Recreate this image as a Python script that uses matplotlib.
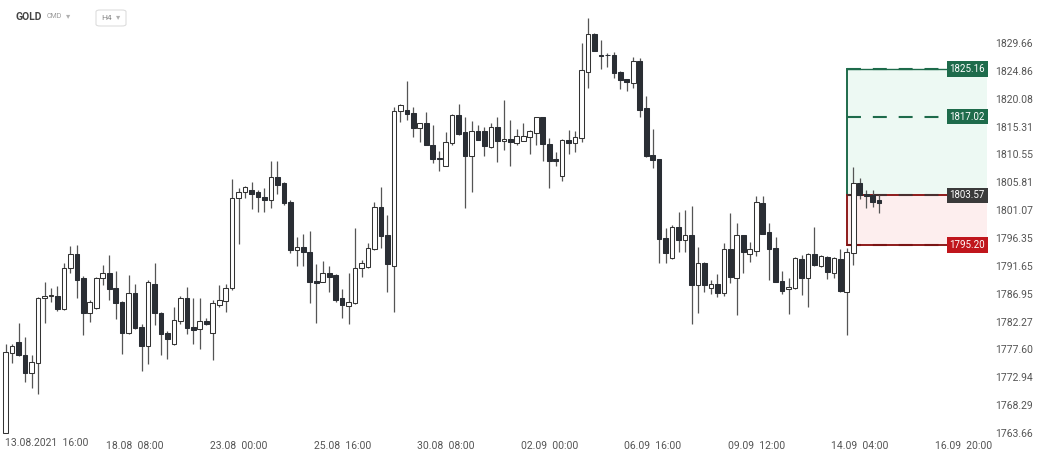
import matplotlib
matplotlib.use("Agg")
import matplotlib.pyplot as plt
from matplotlib.patches import Rectangle, FancyBboxPatch
from matplotlib.ticker import FixedLocator, FixedFormatter, NullLocator
import matplotlib.transforms as mtransforms

plt.rcParams['font.family'] = ['Roboto', 'DejaVu Sans']

# ---------------- data (GOLD, H4) ----------------
opens = [1763.71, 1777.03, 1778.84, 1776.58, 1773.60, 1775.34, 1786.29, 1786.51, 1786.56, 1784.36,
         1791.25, 1793.67, 1789.56, 1783.63, 1784.48, 1789.56, 1790.52, 1787.86, 1785.61, 1780.37,
         1787.14, 1781.38, 1778.17, 1788.66, 1783.75, 1780.42, 1778.56, 1782.40, 1786.17, 1781.38,
         1780.98, 1782.40, 1780.37, 1785.04, 1785.71, 1787.86, 1803.09, 1804.23, 1804.57, 1804.23,
         1803.31, 1802.81, 1806.65, 1805.63, 1802.54, 1794.34, 1794.85, 1794.07, 1789.10, 1789.00,
         1790.40, 1790.11, 1786.17, 1784.94, 1785.32, 1791.25, 1791.37, 1794.46, 1801.69, 1796.78,
         1791.70, 1818.04, 1818.16, 1817.65, 1815.11, 1815.90, 1812.23, 1809.98, 1808.63, 1812.57,
         1817.31, 1814.38, 1810.25, 1814.48, 1814.48, 1811.84, 1815.23, 1812.86, 1813.13, 1812.57,
         1812.86, 1813.54, 1814.21, 1816.92, 1812.28, 1809.74, 1806.94, 1813.03, 1812.52, 1813.37,
         1824.70, 1831.30, 1827.68, 1827.63, 1827.63, 1824.70, 1823.40, 1822.84, 1826.62, 1818.44,
         1810.42, 1809.74, 1796.32, 1792.94, 1798.19, 1795.94, 1796.88, 1788.42, 1792.09, 1787.86,
         1788.54, 1787.14, 1794.46, 1789.67, 1796.78, 1793.62, 1794.18, 1802.25, 1797.29, 1794.63,
         1789.10, 1787.75, 1787.86, 1792.82, 1789.67, 1793.62, 1791.70, 1793.06, 1790.40, 1792.82,
         1787.30, 1793.79, 1805.63, 1803.77, 1803.65, 1802.81]
highs = [1778.56, 1778.56, 1782.06, 1779.69, 1776.69, 1786.46, 1788.88, 1787.98, 1788.32, 1792.21,
         1794.92, 1795.19, 1789.89, 1785.83, 1789.81, 1791.81, 1793.50, 1790.79, 1785.75, 1790.11,
         1788.54, 1781.94, 1789.27, 1792.09, 1783.89, 1780.64, 1784.77, 1786.63, 1788.15, 1786.17,
         1786.29, 1782.79, 1785.88, 1788.42, 1788.54, 1806.36, 1804.79, 1805.12, 1805.92, 1804.50,
         1804.79, 1809.41, 1809.41, 1805.92, 1802.81, 1796.44, 1797.00, 1797.56, 1791.92, 1792.55,
         1791.70, 1790.23, 1787.69, 1790.40, 1798.02, 1792.65, 1795.48, 1802.54, 1804.96, 1800.27,
         1818.61, 1819.12, 1823.11, 1818.61, 1815.95, 1817.77, 1815.62, 1811.17, 1814.38, 1817.39,
         1819.17, 1816.92, 1816.34, 1815.62, 1815.23, 1815.90, 1816.92, 1819.90, 1816.51, 1814.94,
         1815.95, 1814.65, 1816.97, 1816.97, 1813.42, 1811.00, 1813.25, 1814.65, 1814.48, 1829.61,
         1834.01, 1831.36, 1830.17, 1828.02, 1828.19, 1824.92, 1823.45, 1827.18, 1827.07, 1820.47,
         1814.82, 1809.78, 1798.02, 1798.58, 1800.84, 1801.11, 1801.86, 1794.75, 1792.38, 1789.27,
         1790.28, 1795.48, 1800.67, 1798.86, 1796.88, 1795.60, 1803.55, 1803.55, 1798.86, 1796.44,
         1790.79, 1789.67, 1793.06, 1793.40, 1793.79, 1798.14, 1793.40, 1793.23, 1793.06, 1794.51,
         1794.63, 1808.46, 1806.48, 1804.45, 1804.50, 1803.65]
lows = [1763.61, 1775.34, 1776.52, 1772.18, 1771.23, 1770.09, 1782.11, 1785.61, 1784.02, 1784.14,
        1790.40, 1786.29, 1780.08, 1782.23, 1784.31, 1788.42, 1785.88, 1782.62, 1776.86, 1780.25,
        1781.09, 1774.04, 1775.17, 1781.65, 1776.58, 1776.02, 1778.27, 1781.94, 1780.13, 1778.56,
        1777.71, 1781.65, 1775.85, 1784.77, 1783.92, 1787.58, 1795.31, 1803.09, 1801.23, 1800.72,
        1800.84, 1801.40, 1803.77, 1801.96, 1793.79, 1791.64, 1791.54, 1785.32, 1782.11, 1788.97,
        1787.30, 1785.49, 1782.79, 1781.94, 1785.24, 1789.84, 1791.33, 1794.34, 1794.63, 1787.30,
        1783.92, 1816.07, 1816.46, 1813.54, 1812.69, 1812.11, 1809.02, 1807.78, 1808.60, 1812.11,
        1813.81, 1801.52, 1804.11, 1813.00, 1810.25, 1811.67, 1809.19, 1811.27, 1808.63, 1812.23,
        1812.82, 1810.71, 1812.23, 1809.41, 1804.90, 1808.51, 1806.02, 1810.71, 1811.00, 1812.69,
        1822.00, 1828.31, 1825.21, 1825.55, 1823.69, 1821.71, 1821.42, 1821.88, 1816.92, 1810.20,
        1808.29, 1792.09, 1792.09, 1792.82, 1794.07, 1794.07, 1781.94, 1783.63, 1787.30, 1786.85,
        1786.46, 1786.56, 1788.71, 1783.34, 1790.52, 1792.26, 1793.23, 1797.00, 1789.27, 1788.88,
        1786.90, 1783.46, 1787.78, 1786.73, 1784.77, 1791.70, 1791.37, 1789.39, 1789.67, 1787.19,
        1780.08, 1791.81, 1802.98, 1801.40, 1801.69, 1800.67]
closes = [1777.15, 1778.17, 1776.58, 1773.65, 1775.46, 1786.29, 1786.63, 1786.73, 1784.36, 1791.25,
          1793.67, 1789.27, 1783.63, 1785.61, 1789.67, 1790.52, 1787.75, 1785.44, 1780.37, 1787.02,
          1781.21, 1778.17, 1788.88, 1783.63, 1780.13, 1779.40, 1782.50, 1786.17, 1781.26, 1780.81,
          1782.33, 1781.94, 1785.32, 1785.88, 1787.86, 1803.21, 1804.23, 1805.07, 1803.89, 1803.38,
          1802.81, 1806.77, 1805.35, 1802.25, 1794.34, 1794.85, 1793.96, 1789.00, 1788.83, 1790.40,
          1789.84, 1785.88, 1785.04, 1785.49, 1791.25, 1792.09, 1794.63, 1801.69, 1796.61, 1791.92,
          1818.04, 1819.05, 1817.48, 1815.06, 1815.90, 1812.23, 1809.74, 1809.74, 1812.69, 1817.31,
          1814.09, 1810.25, 1814.55, 1813.03, 1811.94, 1815.23, 1812.86, 1813.20, 1812.69, 1813.64,
          1813.64, 1814.48, 1816.92, 1812.28, 1809.47, 1809.36, 1813.08, 1812.45, 1813.54, 1824.98,
          1831.30, 1828.36, 1827.46, 1827.51, 1824.54, 1823.23, 1823.01, 1826.62, 1818.21, 1810.25,
          1809.58, 1796.21, 1793.79, 1798.19, 1796.04, 1796.88, 1788.42, 1792.09, 1788.42, 1788.54,
          1787.14, 1794.46, 1789.84, 1796.78, 1793.91, 1794.46, 1802.42, 1797.05, 1794.46, 1789.00,
          1787.47, 1788.15, 1792.94, 1789.67, 1793.67, 1791.81, 1793.23, 1790.57, 1792.94, 1787.41,
          1793.91, 1805.63, 1803.65, 1803.52, 1802.54, 1802.25]

xtick_pos = [20, 36, 52, 68, 84, 100, 116, 132, 148]
xtick_labels = ["18.08  08:00", "23.08  00:00", "25.08  16:00", "30.08  08:00", "02.09  00:00",
                "06.09  16:00", "09.09  12:00", "14.09  04:00", "16.09  20:00"]
first_label = "13.08.2021  16:00"

ytick_values = [1829.66, 1824.86, 1820.08, 1815.31, 1810.55, 1805.81, 1801.07, 1796.35,
                1791.65, 1786.95, 1782.27, 1777.60, 1772.94, 1768.29, 1763.66]

# position tool levels
tp2_level = 1825.16
tp1_level = 1817.02
entry_level = 1803.57
sl_level = 1795.20
tool_start = 130

# ---------------- figure ----------------
W, H = 1042, 458
fig = plt.figure(figsize=(W / 100, H / 100), dpi=100)
fig.patch.set_facecolor("white")
ax_left, ax_right, ax_top, ax_bot = 0, 987, 3, 437
ax = fig.add_axes([ax_left / W, 1 - ax_bot / H, (ax_right - ax_left) / W, (ax_bot - ax_top) / H])
ax.set_facecolor("white")
ax.set_yscale("log")

x0 = -0.88
x1 = 151.67
ax.set_xlim(x0, x1)
ax.set_ylim(1762.99, 1836.57)

# position tool boxes (behind candles)
ax.add_patch(Rectangle((tool_start, entry_level), x1 - tool_start, tp2_level - entry_level,
                       facecolor="#edf9f3", edgecolor="none", zorder=0))
ax.add_patch(Rectangle((tool_start, sl_level), x1 - tool_start, entry_level - sl_level,
                       facecolor="#fdeeee", edgecolor="none", zorder=0))
green = "#1e6b4b"
red = "#8e1b1b"
ax.plot([tool_start, tool_start], [entry_level, tp2_level], color=green, lw=1.4, zorder=1)
ax.plot([tool_start, x1], [tp2_level, tp2_level], color=green, lw=1.0, zorder=1)
ax.plot([tool_start, tool_start], [sl_level, entry_level], color=red, lw=1.4, zorder=1)
ax.plot([tool_start, x1], [entry_level, entry_level], color=red, lw=1.4, zorder=1)
ax.plot([tool_start, x1], [sl_level, sl_level], color=red, lw=1.4, zorder=1)
dash = (0, (6.7, 5.7))
ax.hlines(tp2_level, tool_start, x1, colors=green, linestyles=[dash], lw=1.5, zorder=1)
ax.hlines(tp1_level, tool_start, x1, colors=green, linestyles=[dash], lw=1.5, zorder=1)
ax.hlines(entry_level, tool_start, x1, colors="#4a3030", linestyles=[dash], lw=1.5, zorder=1)
ax.hlines(sl_level, tool_start, x1, colors="#7a1515", linestyles=[dash], lw=1.5, zorder=1)

# candles
dark = "#2a2e34"
n = len(opens)
for i in range(n):
    o, h, l, c = opens[i], highs[i], lows[i], closes[i]
    ax.vlines(i, l, h, colors="#555555", lw=0.9, zorder=2)
    up = c >= o
    lo, hi = min(o, c), max(o, c)
    ax.bar(i, max(hi - lo, 0.08), bottom=lo, width=0.72,
           color="white" if up else dark, edgecolor="#333333" if up else dark,
           linewidth=0.75, zorder=3)

# level labels
trans = mtransforms.blended_transform_factory(ax.transAxes, ax.transData)
for lvl, col in [(tp2_level, green), (tp1_level, green), (entry_level, "#3a3a3a"), (sl_level, "#c0161c")]:
    ax.text(0.998, lvl, f"{lvl:.2f}", transform=trans, ha="right", va="center",
            fontsize=7, color="white", zorder=6,
            bbox=dict(boxstyle="square,pad=0.28", fc=col, ec="none"))

# axes styling
for s in ax.spines.values():
    s.set_visible(False)
ax.yaxis.tick_right()
ax.yaxis.set_major_locator(FixedLocator(ytick_values))
ax.yaxis.set_major_formatter(FixedFormatter([f"{v:.2f}" for v in ytick_values]))
ax.yaxis.set_minor_locator(NullLocator())
ax.tick_params(axis="y", length=0, pad=6, labelsize=7.5, labelcolor="#555555")
ax.set_xticks(xtick_pos)
ax.set_xticklabels(xtick_labels)
ax.tick_params(axis="x", length=0, pad=3, labelsize=7.5, labelcolor="#555555")
fig.text(5 / W, 1 - 443 / H, first_label, ha="left", va="center", fontsize=7.5, color="#555555")

# header
fig.text(15 / W, 1 - 17 / H, "GOLD", ha="left", va="center", fontsize=7.5, fontweight="bold", color="#444444")
fig.text(47 / W, 1 - 17 / H, "CMD", ha="left", va="center", fontsize=5, color="#9a9a9a")
fig.text(66 / W, 1 - 16 / H, "\u25be", ha="left", va="center", fontsize=6, color="#b0b0b0", family="DejaVu Sans")
fig.patches.append(FancyBboxPatch((96 / W, 1 - 26 / H), 30 / W, 16 / H,
                                  boxstyle="round,pad=0,rounding_size=0.004",
                                  transform=fig.transFigure, fc="white", ec="#dddddd", lw=0.8))
fig.text(101 / W, 1 - 18 / H, "H4", ha="left", va="center", fontsize=6, color="#888888")
fig.text(116 / W, 1 - 17 / H, "\u25be", ha="left", va="center", fontsize=6, color="#b0b0b0", family="DejaVu Sans")

fig.savefig("out.png", dpi=100, facecolor="white")
